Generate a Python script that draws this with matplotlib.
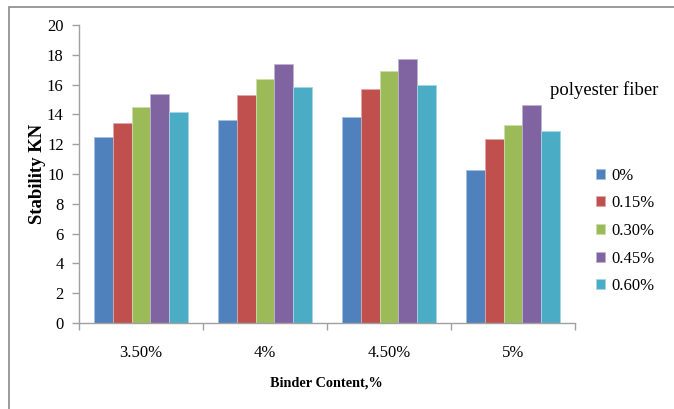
import matplotlib
matplotlib.use("Agg")
import matplotlib.pyplot as plt
import numpy as np
from matplotlib.patches import Rectangle

# Marshall stability vs binder content for different polyester fibre dosages
binder_content = ["3.50%", "4%", "4.50%", "5%"]
fiber_labels = ["0%", "0.15%", "0.30%", "0.45%", "0.60%"]
fiber_0 = [12.45, 13.6, 13.8, 10.3]
fiber_015 = [13.45, 15.3, 15.7, 12.35]
fiber_030 = [14.5, 16.35, 16.9, 13.3]
fiber_045 = [15.4, 17.4, 17.7, 14.6]
fiber_060 = [14.15, 15.85, 16.0, 12.9]
y_ticks = [0, 2, 4, 6, 8, 10, 12, 14, 16, 18, 20]

series = [fiber_0, fiber_015, fiber_030, fiber_045, fiber_060]
colors = ["#4F81BD", "#C0504D", "#9BBB59", "#8064A2", "#4BACC6"]
edges = ["#A7C0DE", "#DFA8A6", "#CDDDAC", "#BFB1D0", "#A5D5E2"]

plt.rcParams["font.family"] = ["Liberation Serif", "DejaVu Serif"]

fig = plt.figure(figsize=(6.74, 4.09), dpi=100)
ax = fig.add_axes([0.1172, 0.2103, 0.7358, 0.7286])

x = np.arange(len(binder_content))
bw = 0.152
for i, (vals, c, e) in enumerate(zip(series, colors, edges)):
    ax.bar(x + (i - 2) * bw, vals, width=bw, color=c, edgecolor=e,
           linewidth=0.6, label=fiber_labels[i], zorder=2)

ax.set_xlim(-0.5, len(binder_content) - 0.5)
ax.set_ylim(0, 20)
ax.set_yticks(y_ticks)
ax.set_yticklabels([str(t) for t in y_ticks], fontsize=12)
ax.set_xticks(x)
ax.set_xticklabels(binder_content, fontsize=12)
ax.set_xticks(np.arange(-0.5, len(binder_content)), minor=True)
ax.tick_params(axis="x", which="major", length=0, pad=16)
ax.tick_params(axis="x", which="minor", length=5, color="#A0A0A0", width=1)
ax.tick_params(axis="y", length=5, color="#A0A0A0", width=1, pad=6)

for side in ["top", "right"]:
    ax.spines[side].set_visible(False)
for side in ["left", "bottom"]:
    ax.spines[side].set_color("#A0A0A0")
    ax.spines[side].set_linewidth(1)

ax.set_ylabel("Stability KN", fontsize=13.5, fontweight="bold", labelpad=1)
fig.text(326 / 674, 1 - 383 / 409, "Binder Content,%", fontsize=10.3,
         fontweight="bold", ha="center", va="center")

fig.text(550 / 674, 1 - 90 / 409, "polyester fiber", fontsize=13.4,
         ha="left", va="center")

leg = ax.legend(loc="upper left", bbox_to_anchor=(589 / 674, 1 - 161 / 409),
                bbox_transform=fig.transFigure, frameon=False, fontsize=12,
                handlelength=0.55, handleheight=0.55, handletextpad=0.4,
                labelspacing=0.7, borderaxespad=0)

# outer frame around the chart area
fig.patches.append(Rectangle((8.5 / 674, -0.1), 1.2, 1.1 - 7.5 / 409,
                             transform=fig.transFigure, fill=False,
                             edgecolor="#8A8A8A", linewidth=1.2))

fig.savefig("out.png", dpi=100)
